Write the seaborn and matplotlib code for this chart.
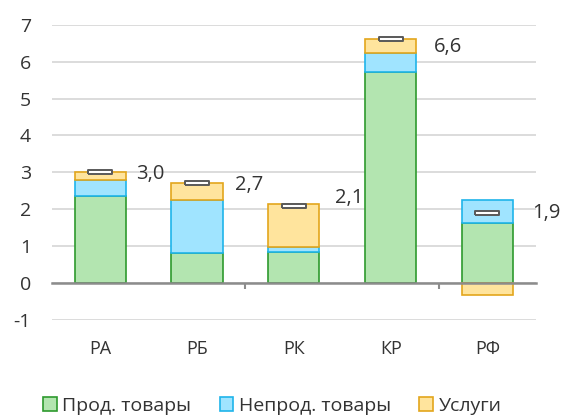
import numpy as np
import pandas as pd
import matplotlib
matplotlib.use("Agg")
import matplotlib.pyplot as plt
from matplotlib.patches import Patch
from matplotlib.ticker import FixedLocator
import seaborn as sns

# данные (п.п.)
regions = ["РА", "РБ", "РК", "КР", "РФ"]
food = [2.37, 0.81, 0.84, 5.72, 1.62]
nonfood = [0.41, 1.43, 0.13, 0.52, 0.64]
services = [0.24, 0.48, 1.16, 0.36, -0.32]
total = [3.0, 2.7, 2.1, 6.6, 1.9]
total_labels = ["3,0", "2,7", "2,1", "6,6", "1,9"]

series_names = ["Прод. товары", "Непрод. товары", "Услуги"]
face_colors = ["#b3e5b0", "#a0e4ff", "#ffe49d"]
edge_colors = ["#2e9a2e", "#1fb4ea", "#e3a61c"]

# небольшие сдвиги подписей (как в оригинале)
label_dy = [-0.05, -0.05, 0.2, -0.2, 0.0]
label_dx = [0.37, 0.39, 0.43, 0.45, 0.46]

sns.set_theme(style="white")
plt.rcParams["font.family"] = ["Open Sans", "DejaVu Sans"]
plt.rcParams["axes.unicode_minus"] = False

df = pd.DataFrame({"region": regions, "food": food, "nonfood": nonfood,
                   "services": services, "total": total})

fig = plt.figure(figsize=(5.64, 4.16), dpi=100)
ax = fig.add_axes([0.092, 0.2308, 0.858, 0.7098])

# стек: положительные вверх от нуля, отрицательные вниз
pos_base = np.zeros(len(df))
neg_base = np.zeros(len(df))
for col, fc, ec in zip(["food", "nonfood", "services"], face_colors, edge_colors):
    vals = df[col].to_numpy()
    bottom = np.where(vals >= 0, pos_base, neg_base)
    sns.barplot(x=df["region"], y=vals, bottom=bottom, color=fc,
                edgecolor=ec, linewidth=1.2, width=0.53, saturation=1,
                ax=ax, zorder=3)
    pos_base = pos_base + np.clip(vals, 0, None)
    neg_base = neg_base + np.clip(vals, None, 0)

# маркеры итога
rect = [(-1, -0.2), (1, -0.2), (1, 0.2), (-1, 0.2), (-1, -0.2)]
ax.plot(range(len(df)), df["total"], linestyle="none", marker=rect,
        markersize=17.5, markerfacecolor="white", markeredgecolor="#595959",
        markeredgewidth=1.4, zorder=5)

for i, (t, lab) in enumerate(zip(total, total_labels)):
    ax.text(i + label_dx[i], t + label_dy[i], lab, ha="left", va="center",
            fontsize=14.5, color="#333333", zorder=6)

ax.set_xlim(-0.5, 4.5)
ax.set_ylim(-1, 7)
ax.set_yticks(range(-1, 8))
ax.grid(axis="y", color="#d9d9d9", linewidth=1.3, zorder=0)
ax.set_axisbelow(True)

for s in ["left", "right", "top"]:
    ax.spines[s].set_visible(False)
ax.spines["bottom"].set_position(("data", 0))
ax.spines["bottom"].set_color("#8c8c8c")
ax.spines["bottom"].set_linewidth(1.8)
ax.spines["bottom"].set_zorder(4)

ax.xaxis.set_minor_locator(FixedLocator([1.5, 3.5]))
ax.tick_params(axis="x", which="minor", length=4, width=1.5, color="#8c8c8c",
               direction="out", bottom=True)
ax.tick_params(axis="x", which="major", length=0, pad=41, labelsize=13,
               labelcolor="#333333")
ax.tick_params(axis="y", length=0, pad=15, labelsize=14, labelcolor="#333333")
ax.set_xlabel("")
ax.set_ylabel("")

handles = [Patch(facecolor=fc, edgecolor=ec, linewidth=1.2, label=n)
           for n, fc, ec in zip(series_names, face_colors, edge_colors)]
fig.legend(handles=handles, loc="center", bbox_to_anchor=(0.483, 0.024),
           ncol=3, frameon=False, fontsize=14, handlelength=0.7,
           handleheight=0.7, handletextpad=0.3, columnspacing=1.45,
           labelcolor="#333333", borderpad=0)

fig.savefig("out.png", dpi=100)
